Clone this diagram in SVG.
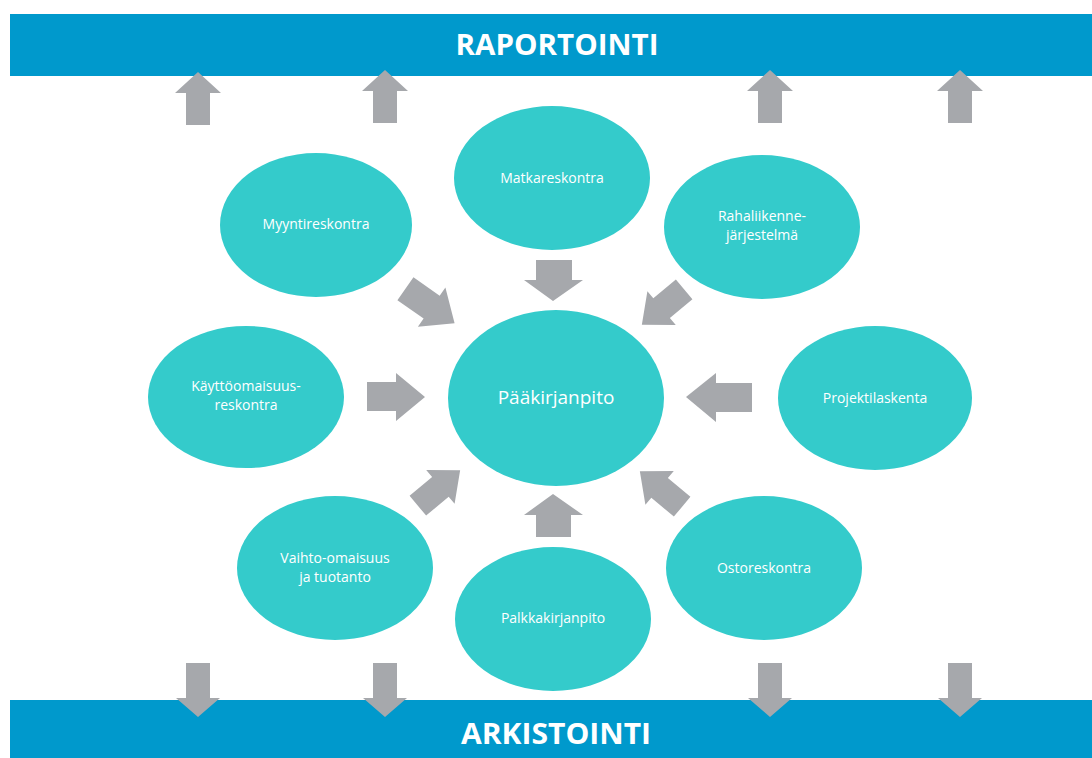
<svg xmlns="http://www.w3.org/2000/svg" width="1092" height="758" viewBox="0 0 1092 758">
<defs>
<style>
.bar{fill:#0099CC}
.bartxt{font-family:"Open Sans","Liberation Sans",sans-serif;font-weight:bold;font-size:29px;fill:#FFFFFF;text-anchor:middle}
.node ellipse{fill:#34CBCB}
.node text{font-family:"Open Sans","Liberation Sans",sans-serif;font-size:14px;fill:#FFFFFF;text-anchor:middle}
.arr{fill:#A6A8AC}
</style>
<polygon id="diag" points="-30,-14 2,-14 2,-24 30,0 2,24 2,14 -30,14"/>
<polygon id="up" points="0,0 23,21 12,21 12,53 -12,53 -12,21 -23,21"/>
<polygon id="down" points="-12,0 12,0 12,35 22,35 0,54 -22,35 -12,35"/>
</defs>
<rect width="1092" height="758" fill="#FFFFFF"/>
<g id="raportointi">
<rect class="bar" x="10" y="14" width="1082" height="62"/>
<text class="bartxt" x="557" y="55" textLength="203" lengthAdjust="spacingAndGlyphs">RAPORTOINTI</text>
</g>
<g id="arkistointi">
<rect class="bar" x="10" y="700" width="1082" height="58"/>
<text class="bartxt" x="556" y="744" textLength="190" lengthAdjust="spacingAndGlyphs">ARKISTOINTI</text>
</g>
<g id="connectors" class="arr">
<use href="#up" x="198" y="72"/>
<use href="#up" x="385" y="70"/>
<use href="#up" x="770" y="70"/>
<use href="#up" x="960" y="70"/>
<use href="#down" x="198" y="663"/>
<use href="#down" x="385" y="663"/>
<use href="#down" x="770" y="663"/>
<use href="#down" x="960" y="663"/>
<polygon points="536,260 572,260 572,280 583,280 553,301 524,280 536,280"/>
<polygon points="553,494 583,515 571,515 571,537 536,537 536,515 524,515"/>
<polygon points="367,382 396,382 396,373 425,397 396,421 396,411 367,411"/>
<polygon points="686,397 716,373 716,383 752,383 752,412 716,412 716,422"/>
<use href="#diag" transform="translate(430,306) rotate(35)"/>
<use href="#diag" transform="translate(663,307) rotate(140) scale(0.92)"/>
<use href="#diag" transform="translate(439,488) rotate(-40) scale(0.92)"/>
<use href="#diag" transform="translate(661,489) rotate(-140) scale(0.92)"/>
</g>
<g id="matkareskontra" class="node">
<ellipse cx="552" cy="178" rx="98" ry="72"/>
<text x="552" y="183">Matkareskontra</text>
</g>
<g id="myyntireskontra" class="node">
<ellipse cx="316" cy="225" rx="96" ry="72"/>
<text x="316" y="229">Myyntireskontra</text>
</g>
<g id="rahaliikenne" class="node">
<ellipse cx="762" cy="227" rx="98" ry="72"/>
<text x="762" y="221">Rahaliikenne-</text>
<text x="762" y="240">järjestelmä</text>
</g>
<g id="kayttoomaisuus" class="node">
<ellipse cx="246" cy="397" rx="98" ry="71"/>
<text x="246" y="391">Käyttöomaisuus-</text>
<text x="246" y="410">reskontra</text>
</g>
<g id="paakirjanpito" class="node">
<ellipse cx="556" cy="398" rx="108" ry="88"/>
<text x="556" y="404" style="font-size:19px">Pääkirjanpito</text>
</g>
<g id="projektilaskenta" class="node">
<ellipse cx="875" cy="398" rx="97" ry="72"/>
<text x="875" y="403">Projektilaskenta</text>
</g>
<g id="vaihtoomaisuus" class="node">
<ellipse cx="335" cy="568" rx="98" ry="72"/>
<text x="335" y="563">Vaihto-omaisuus</text>
<text x="335" y="582">ja tuotanto</text>
</g>
<g id="palkkakirjanpito" class="node">
<ellipse cx="553" cy="619" rx="98" ry="72"/>
<text x="553" y="623">Palkkakirjanpito</text>
</g>
<g id="ostoreskontra" class="node">
<ellipse cx="764" cy="568" rx="98" ry="72"/>
<text x="764" y="573">Ostoreskontra</text>
</g>
</svg>
